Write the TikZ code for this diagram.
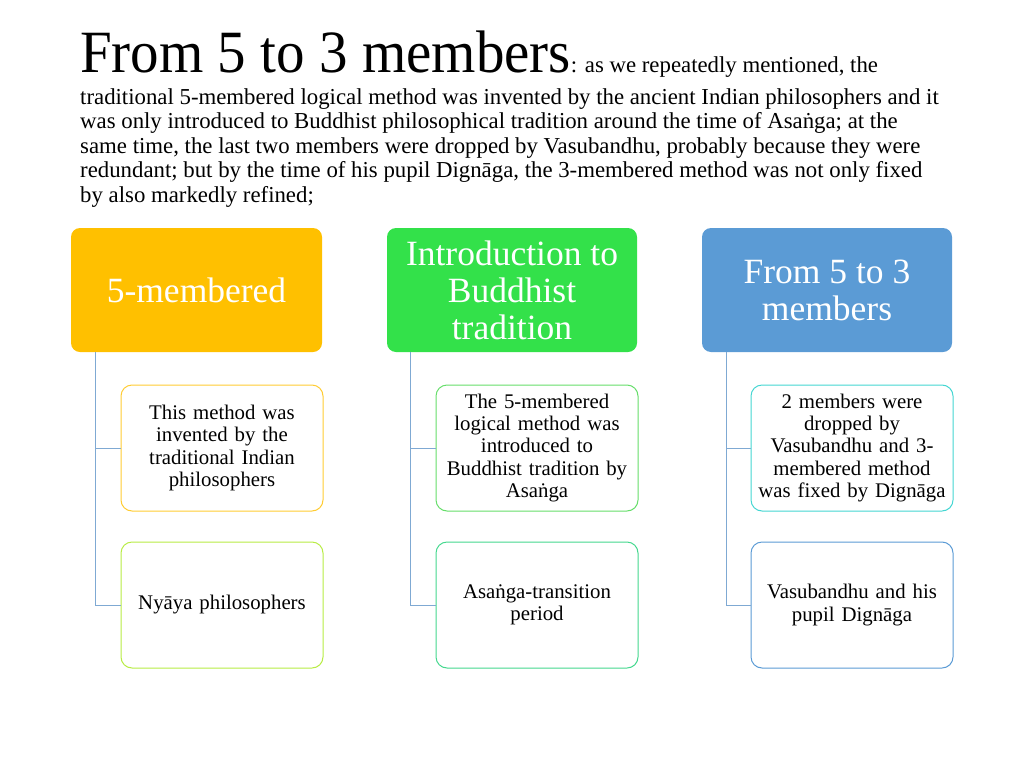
\documentclass[tikz,border=0pt]{standalone}
\usepackage{fontspec}
\setmainfont{Liberation Serif}
\newfontfamily\headfont[FakeStretch=0.95]{Liberation Serif}
\usetikzlibrary{positioning}

\begin{document}
\begin{tikzpicture}[x=1pt,y=-1pt,
	headbox/.style={rounded corners=9pt,minimum width=251pt,minimum height=124pt,
		text=white,align=center,font=\fontsize{35.5}{37}\selectfont,inner sep=0pt},
	leafbox/.style={draw,fill=white,line width=1pt,rounded corners=11pt,minimum width=202pt,
		minimum height=126pt,align=center,text width=196pt,
		font=\fontsize{20.8}{22.3}\selectfont,inner sep=0pt},
	branch/.style={draw=linkblue,line width=1pt}]
			\definecolor{hyellow}{HTML}{FFC000}
			\definecolor{hgreen}{HTML}{33E14A}
			\definecolor{hblue}{HTML}{5B9BD5}
			\definecolor{bdyellow}{HTML}{FFCC33}
			\definecolor{bdlime}{HTML}{B8EC44}
			\definecolor{bdgreen}{HTML}{66DE6A}
			\definecolor{bdmint}{HTML}{44D88E}
			\definecolor{bdcyan}{HTML}{44D6D2}
			\definecolor{linkblue}{HTML}{7FA9D3}
				\useasboundingbox (0,0) rectangle (1024,768);
				% heading text
				\node[anchor=base west,inner sep=0pt] (title) at (80,72)
					{{\headfont\fontsize{60}{60}\selectfont From 5 to 3 members}{\fontsize{22.8}{24}\selectfont: as we repeatedly mentioned, the}};
				\node[anchor=north west,inner sep=0pt,align=left,font=\fontsize{22.8}{24.4}\selectfont] (summary) at (80,88.5)
					{traditional 5-membered logical method was invented by the ancient Indian philosophers and it\\
					was only introduced to Buddhist philosophical tradition around the time of Asa\.nga; at the\\
					same time, the last two members were dropped by Vasubandhu, probably because they were\\
					redundant; but by the time of his pupil Dign\=aga, the 3-membered method was not only fixed\\
					by also markedly refined;};
				% top row
				\node[headbox,fill=hyellow] (five) at (196.5,290) {5-membered};
				\node[headbox,fill=hgreen,minimum width=250pt] (intro) at (512,290) {Introduction to\\Buddhist\\tradition};
				\node[headbox,fill=hblue,minimum width=250pt] (three) at (827,290) {From 5 to 3\\members};
				% leaves
				\node[leafbox,draw=bdyellow] (fiveA) at (222,448) {This method was\\invented by the\\traditional Indian\\philosophers};
				\node[leafbox,draw=bdlime] (fiveB) at (222,605) {Ny\=aya philosophers};
				\node[leafbox,draw=bdgreen] (introA) at (537,448) {The 5-membered\\logical method was\\introduced to\\Buddhist tradition by\\Asa\.nga};
				\node[leafbox,draw=bdmint] (introB) at (537,605) {Asa\.nga-transition\\period};
				\node[leafbox,draw=bdcyan] (threeA) at (852,448) {2 members were\\dropped by\\Vasubandhu and 3-\\membered method\\was fixed by Dign\=aga};
				\node[leafbox,draw=hblue] (threeB) at (852,605) {Vasubandhu and his\\pupil Dign\=aga};
				% connectors
				\draw[branch] (five.south west) ++(25,0) |- (fiveA.west);
				\draw[branch] (five.south west) ++(25,0) |- (fiveB.west);
				\draw[branch] (intro.south west) ++(24,0) |- (introA.west);
				\draw[branch] (intro.south west) ++(24,0) |- (introB.west);
				\draw[branch] (three.south west) ++(25,0) |- (threeA.west);
				\draw[branch] (three.south west) ++(25,0) |- (threeB.west);
		\end{tikzpicture}
\end{document}
